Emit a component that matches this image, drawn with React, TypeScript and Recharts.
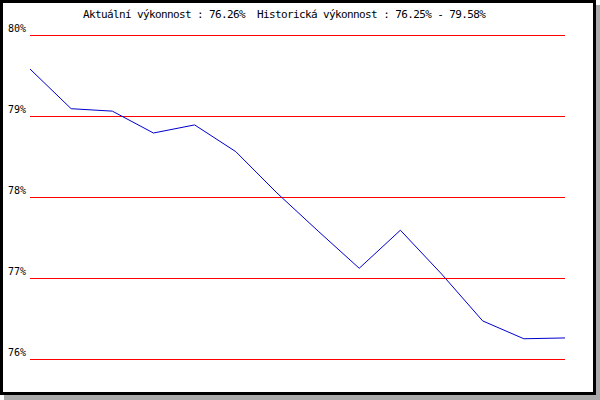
import React from 'react';
import { LineChart, Line, XAxis, YAxis, CartesianGrid } from 'recharts';

// sampling points (no labels shown on the chart)
const periods = ['1', '2', '3', '4', '5', '6', '7', '8', '9', '10', '11', '12', '13', '14'];
// performance in %
const performance = [79.58, 79.09, 79.06, 78.79, 78.89, 78.56, 78.05, 77.58, 77.12, 77.59, 77.05, 76.47, 76.25, 76.26];
const yTicks = [76, 77, 78, 79, 80];
const title = 'Aktuální výkonnost : 76.26%  Historická výkonnost : 76.25% - 79.58%';

const MONO = '"DejaVu Sans Mono", monospace';

const YTick = (props: any) => {
  const { y, payload } = props;
  return (
    <text x={8} y={y - 3} fontFamily={MONO} fontSize={10} fill="#000">
      {`${payload.value}%`}
    </text>
  );
};

const App: React.FC = () => {
  const data = periods.map((p, i) => ({ name: p, value: performance[i] }));

  return (
    <div style={{ position: 'absolute', left: 0, top: 0, width: 600, height: 400, background: '#fff' }}>
      {/* framed box with drop shadow */}
      <div
        style={{
          position: 'absolute',
          left: 0,
          top: 0,
          width: 596,
          height: 395,
          boxSizing: 'border-box',
          border: '3px solid #000',
          background: '#fff',
          boxShadow: '4px 5px 0 #aaaaaa',
        }}
      />
      <div style={{ position: 'absolute', left: 0, top: 0 }}>
        <LineChart width={600} height={400} data={data} margin={{ top: 35, right: 35, bottom: 41, left: 0 }}>
          <CartesianGrid vertical={false} stroke="#ff0000" strokeWidth={1} shapeRendering="crispEdges" />
          <XAxis dataKey="name" hide />
          <YAxis
            domain={[76, 80]}
            ticks={yTicks}
            width={30}
            axisLine={false}
            tickLine={false}
            tick={(p: any) => <YTick {...p} />}
            interval={0}
          />
          <Line
            type="linear"
            dataKey="value"
            stroke="#0000cc"
            strokeWidth={1}
            dot={false}
            isAnimationActive={false}
          />
        </LineChart>
      </div>
      <svg width={600} height={30} style={{ position: 'absolute', left: 0, top: 0 }}>
        <text x={83} y={18} fontFamily={MONO} fontSize={11} letterSpacing={-0.62} fill="#000" style={{ whiteSpace: 'pre' }}>
          {title}
        </text>
      </svg>
    </div>
  );
};

export default App;
